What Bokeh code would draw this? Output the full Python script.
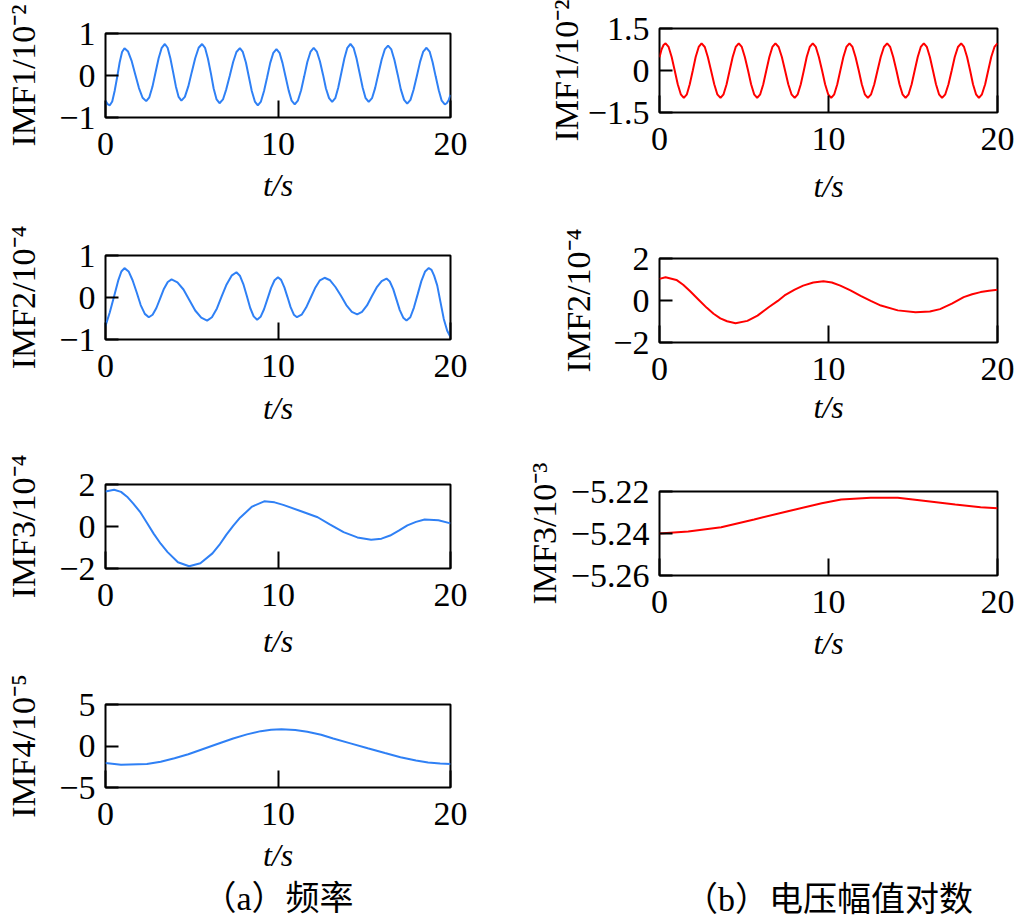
from bokeh.plotting import figure
from bokeh.models import Range1d, FixedTicker, CustomJSTickFormatter, Title
from bokeh.layouts import row, column
from bokeh.embed import file_html
from bokeh.resources import INLINE

BLUE = "#2F80F5"
RED = "#FF0000"
SERIF = "Liberation Serif"
CAPFONT = "'Liberation Serif', 'Noto Sans CJK SC'"

# ---------------- data ----------------
# (a) frequency, IMF1 (x1e-2)
t_a1 = [0, 0.12, 0.25,
        0.39, 0.53, 0.68, 0.82, 0.96, 1.10,
        1.31, 1.52, 1.73, 1.94, 2.15, 2.36,
        2.54, 2.72, 2.90, 3.08, 3.26, 3.44,
        3.60, 3.76, 3.92, 4.08, 4.24, 4.40,
        4.60, 4.80, 5.00, 5.20, 5.40, 5.60,
        5.77, 5.94, 6.11, 6.27, 6.44, 6.61,
        6.81, 7.00, 7.20, 7.40, 7.59, 7.79,
        7.96, 8.14, 8.31, 8.48, 8.66, 8.83,
        9.01, 9.19, 9.37, 9.55, 9.73, 9.91,
        10.09, 10.26, 10.44, 10.62, 10.79, 10.97,
        11.15, 11.34, 11.52, 11.70, 11.89, 12.07,
        12.25, 12.43, 12.61, 12.78, 12.96, 13.14,
        13.32, 13.49, 13.67, 13.85, 14.02, 14.20,
        14.38, 14.55, 14.73, 14.91, 15.08, 15.26,
        15.45, 15.63, 15.82, 16.01, 16.19, 16.38,
        16.57, 16.75, 16.94, 17.12, 17.31, 17.49,
        17.68, 17.86, 18.05, 18.24, 18.42, 18.61,
        18.79, 18.96, 19.14, 19.32, 19.49, 19.67,
        19.78, 19.89, 20.0]
v_a1 = [-0.60, -0.68, -0.71,
        -0.62, -0.37, -0.03, 0.31, 0.56, 0.65,
        0.57, 0.34, 0.02, -0.30, -0.53, -0.61,
        -0.52, -0.27, 0.07, 0.41, 0.66, 0.75,
        0.66, 0.41, 0.08, -0.26, -0.51, -0.60,
        -0.51, -0.26, 0.08, 0.41, 0.66, 0.75,
        0.66, 0.40, 0.05, -0.31, -0.57, -0.66,
        -0.57, -0.33, -0.01, 0.32, 0.56, 0.65,
        0.56, 0.31, -0.03, -0.37, -0.62, -0.71,
        -0.62, -0.37, -0.04, 0.30, 0.54, 0.63,
        0.54, 0.30, -0.03, -0.36, -0.60, -0.69,
        -0.60, -0.35, -0.02, 0.32, 0.57, 0.66,
        0.57, 0.34, 0.02, -0.31, -0.54, -0.63,
        -0.54, -0.29, 0.06, 0.41, 0.66, 0.75,
        0.66, 0.41, 0.06, -0.29, -0.54, -0.63,
        -0.54, -0.30, 0.04, 0.38, 0.62, 0.71,
        0.62, 0.37, 0.02, -0.33, -0.58, -0.67,
        -0.58, -0.34, -0.01, 0.33, 0.57, 0.66,
        0.57, 0.32, -0.02, -0.35, -0.60, -0.69,
        -0.66, -0.59, -0.46]

# (a) frequency, IMF2 (x1e-4)
t_a2 = [0, 0.25, 0.48, 0.75, 0.92, 1.10,
        1.34, 1.57, 1.81, 2.04, 2.28, 2.51,
        2.73, 2.95, 3.17, 3.39, 3.61, 3.83,
        4.17, 4.52, 4.86, 5.20, 5.55, 5.89,
        6.17, 6.46, 6.74, 7.02, 7.31, 7.59,
        7.79, 7.99, 8.19, 8.39, 8.59, 8.79,
        8.99, 9.19, 9.40, 9.60, 9.80, 10.0,
        10.18, 10.37, 10.55, 10.73, 10.92, 11.10,
        11.37, 11.63, 11.90, 12.17, 12.43, 12.70,
        13.02, 13.33, 13.65, 13.96, 14.28, 14.59,
        14.87, 15.16, 15.44, 15.72, 16.01, 16.29,
        16.48, 16.68, 16.87, 17.06, 17.26, 17.45,
        17.67, 17.88, 18.10, 18.31, 18.53, 18.74,
        18.90, 19.05, 19.23, 19.42, 19.61, 19.81, 20.0]
v_a2 = [-0.68, -0.35, 0.0, 0.42, 0.62, 0.70,
        0.62, 0.41, 0.12, -0.18, -0.39, -0.47,
        -0.41, -0.25, -0.02, 0.21, 0.37, 0.43,
        0.36, 0.19, -0.06, -0.31, -0.48, -0.55,
        -0.47, -0.26, 0.03, 0.31, 0.52, 0.60,
        0.52, 0.32, 0.04, -0.25, -0.45, -0.53,
        -0.46, -0.28, -0.02, 0.23, 0.41, 0.48,
        0.42, 0.24, 0.01, -0.23, -0.41, -0.47,
        -0.41, -0.24, 0.0, 0.24, 0.41, 0.47,
        0.41, 0.25, 0.04, -0.18, -0.34, -0.40,
        -0.34, -0.19, 0.03, 0.24, 0.39, 0.45,
        0.38, 0.20, -0.05, -0.30, -0.48, -0.55,
        -0.47, -0.24, 0.08, 0.39, 0.62, 0.70,
        0.66, 0.52, 0.29, -0.11, -0.51, -0.79, -0.94]

# (a) frequency, IMF3 (x1e-4)
t_a3 = [0, 0.5, 0.9, 1.25, 1.6, 2.0, 2.4, 2.8, 3.2, 3.6, 4.2, 4.85, 5.5, 6.2, 6.6, 7.0, 7.4,
        7.8, 8.5, 9.2, 9.8, 10.3, 11.3, 12.3, 13.0, 13.8, 14.6, 15.4, 16.0, 16.5, 17.0,
        17.5, 18.0, 18.5, 19.3, 20.0]
v_a3 = [1.67, 1.75, 1.65, 1.42, 1.10, 0.70, 0.18, -0.35, -0.82, -1.22, -1.70, -1.89, -1.75,
        -1.28, -0.88, -0.40, 0.03, 0.42, 0.95, 1.20, 1.15, 1.03, 0.74, 0.44, 0.10, -0.27,
        -0.52, -0.63, -0.58, -0.43, -0.20, 0.05, 0.22, 0.33, 0.30, 0.15]

# (a) frequency, IMF4 (x1e-5)
t_a4 = [0, 0.9, 2.4, 3.2, 4.0, 4.8, 5.5, 6.4, 7.4, 8.2, 9.0, 9.6, 10.2, 11.0, 11.7, 12.5, 13.2,
        14.2, 15.2, 16.2, 17.1, 18.0, 18.7, 19.4, 20.0]
v_a4 = [-2.06, -2.26, -2.18, -1.90, -1.47, -1.00, -0.48, 0.18, 0.91, 1.40, 1.79, 1.95, 2.02,
        1.92, 1.71, 1.35, 0.91, 0.32, -0.28, -0.85, -1.35, -1.75, -1.98, -2.12, -2.18]

# (b) log voltage amplitude, IMF1 (x1e-2)
t_b1 = [0, 0.12, 0.24, 0.36,
        0.54, 0.72, 0.90, 1.08, 1.26, 1.44,
        1.62, 1.79, 1.97, 2.14, 2.32, 2.49,
        2.68, 2.86, 3.05, 3.24, 3.42, 3.61,
        3.79, 3.97, 4.15, 4.33, 4.51, 4.69,
        4.87, 5.05, 5.24, 5.42, 5.60, 5.78,
        5.96, 6.14, 6.32, 6.50, 6.68, 6.86,
        7.05, 7.24, 7.43, 7.62, 7.81, 8.00,
        8.18, 8.36, 8.54, 8.71, 8.89, 9.07,
        9.25, 9.43, 9.62, 9.80, 9.98, 10.16,
        10.34, 10.52, 10.70, 10.88, 11.06, 11.24,
        11.42, 11.60, 11.79, 11.97, 12.15, 12.33,
        12.52, 12.71, 12.90, 13.09, 13.28, 13.47,
        13.65, 13.83, 14.02, 14.20, 14.38, 14.56,
        14.74, 14.92, 15.10, 15.28, 15.46, 15.64,
        15.82, 16.00, 16.18, 16.36, 16.54, 16.72,
        16.91, 17.10, 17.29, 17.47, 17.66, 17.85,
        18.02, 18.20, 18.38, 18.55, 18.73, 18.90,
        19.08, 19.27, 19.45, 19.63, 19.82, 20.0]
v_b1 = [0.47, 0.75, 0.91, 0.97,
        0.84, 0.48, 0.0, -0.49, -0.85, -0.98,
        -0.85, -0.49, 0.0, 0.48, 0.84, 0.97,
        0.84, 0.48, 0.0, -0.49, -0.85, -0.98,
        -0.85, -0.49, 0.0, 0.48, 0.84, 0.97,
        0.84, 0.48, 0.0, -0.49, -0.85, -0.98,
        -0.85, -0.49, 0.0, 0.48, 0.84, 0.97,
        0.84, 0.48, 0.0, -0.49, -0.85, -0.98,
        -0.85, -0.49, 0.0, 0.48, 0.84, 0.97,
        0.84, 0.48, 0.0, -0.49, -0.85, -0.98,
        -0.85, -0.49, 0.0, 0.48, 0.84, 0.97,
        0.84, 0.48, 0.0, -0.49, -0.85, -0.98,
        -0.85, -0.49, 0.0, 0.48, 0.84, 0.97,
        0.84, 0.48, 0.0, -0.49, -0.85, -0.98,
        -0.85, -0.49, 0.0, 0.48, 0.84, 0.97,
        0.84, 0.48, 0.0, -0.49, -0.85, -0.98,
        -0.85, -0.49, 0.0, 0.48, 0.84, 0.97,
        0.84, 0.48, 0.0, -0.49, -0.85, -0.98,
        -0.85, -0.49, 0.0, 0.48, 0.84, 0.97]

# (b) log voltage amplitude, IMF2 (x1e-4)
t_b2 = [0, 0.36, 1.0, 1.4, 1.8, 2.3, 2.8, 3.2, 3.6, 4.0, 4.5, 5.2, 5.8, 6.5, 7.0, 7.4, 8.0,
        8.5, 9.1, 9.7, 10.2, 10.7, 11.3, 11.9, 12.5, 13.1, 14.1, 15.15, 16.0, 16.6, 17.3,
        18.0, 18.5, 19.0, 19.5, 20.0]
v_b2 = [1.03, 1.11, 0.98, 0.75, 0.45, 0.05, -0.35, -0.63, -0.85, -0.99, -1.08, -0.97, -0.72,
        -0.30, -0.02, 0.24, 0.52, 0.71, 0.86, 0.92, 0.86, 0.71, 0.48, 0.22, -0.02, -0.24,
        -0.47, -0.56, -0.52, -0.41, -0.15, 0.16, 0.30, 0.40, 0.46, 0.51]

# (b) log voltage amplitude, IMF3 (x1e-3)
t_b3 = [0, 1.7, 3.65, 5.6, 7.6, 9.6, 10.75, 12.5, 14.1, 15.5, 17.5, 19.0, 20.0]
v_b3 = [-5.2400, -5.2390, -5.2370, -5.2333, -5.2294, -5.2256, -5.2238, -5.2230,
        -5.2230, -5.2243, -5.2262, -5.2275, -5.2280]

x_ticks = [0, 10, 20]
yticks_a1 = [-1, 0, 1]
yticks_a2 = [-1, 0, 1]
yticks_a3 = [-2, 0, 2]
yticks_a4 = [-5, 0, 5]
yticks_b1 = [-1.5, 0, 1.5]
yticks_b2 = [-2, 0, 2]
yticks_b3 = [-5.26, -5.24, -5.22]

ylabels = ["IMF1/10\u207b\u00b2", "IMF2/10\u207b\u2074", "IMF3/10\u207b\u2074", "IMF4/10\u207b\u2075",
           "IMF1/10\u207b\u00b2", "IMF2/10\u207b\u2074", "IMF3/10\u207b\u00b3"]
xlabel = "t/s"
captions = ["（a）频率", "（b）电压幅值对数"]

# ---------------- drawing ----------------
FRAME_H = 84


def fmt(dec):
    return CustomJSTickFormatter(code="""
        if (Math.abs(tick) < 1e-9) { return '0'; }
        return tick.toFixed(%d).replace('-', '\\u2212');
    """ % dec)


def caption_title(text, standoff):
    return Title(text=text, align="center", vertical_align="bottom", standoff=standoff,
                 text_font=CAPFONT, text_font_size="34px", text_font_style="normal",
                 text_color="black")


def panel(t, v, color, ylo, yhi, yticks, ydec, ylabel, width, height, top,
          left, frame_w, xstand, ystand, caption=None, cap_stand=0):
    bottom = height - top - FRAME_H
    right = width - left - frame_w
    p = figure(width=width, height=height,
               x_range=Range1d(0, 20), y_range=Range1d(ylo, yhi),
               output_backend="svg", toolbar_location=None,
               min_border_left=left, min_border_right=right,
               min_border_top=top, min_border_bottom=bottom)
    p.grid.visible = False
    p.outline_line_color = "black"
    p.outline_line_width = 2
    p.outline_line_alpha = 1
    p.background_fill_color = "white"
    p.border_fill_color = "white"

    p.line(t, v, line_color=color, line_width=2)

    for ax, ticks, dec, tin, st in ((p.xaxis[0], x_ticks, 0, 17, 15), (p.yaxis[0], yticks, ydec, 13, 10)):
        ax.ticker = FixedTicker(ticks=ticks)
        ax.formatter = fmt(dec)
        ax.axis_line_color = None
        ax.major_tick_in = tin
        ax.major_tick_out = 0
        ax.major_tick_line_width = 2
        ax.major_tick_line_color = "black"
        ax.minor_tick_line_color = None
        ax.major_label_text_font = SERIF
        ax.major_label_text_font_size = "34px"
        ax.major_label_text_color = "black"
        ax.major_label_standoff = st
        ax.axis_label_text_font = SERIF
        ax.axis_label_text_color = "black"

    p.xaxis.axis_label = xlabel
    p.xaxis.axis_label_text_font_style = "italic"
    p.xaxis.axis_label_text_font_size = "32px"
    p.xaxis.axis_label_standoff = xstand

    p.yaxis.axis_label = ylabel
    p.yaxis.axis_label_text_font_style = "normal"
    p.yaxis.axis_label_text_font_size = "34px"
    p.yaxis.axis_label_standoff = ystand

    if caption:
        p.add_layout(caption_title(caption, cap_stand), "below")
    return p


WA, LA, FWA = 500, 105, 345
WB, LB, FWB = 518, 159, 338

a1 = panel(t_a1, v_a1, BLUE, -1, 1, yticks_a1, 0, ylabels[0], WA, 220, 33, LA, FWA, 9, 14)
a2 = panel(t_a2, v_a2, BLUE, -1, 1, yticks_a2, 0, ylabels[1], WA, 220, 35, LA, FWA, 10, 14)
a3 = panel(t_a3, v_a3, BLUE, -2, 2, yticks_a3, 0, ylabels[2], WA, 225, 44, LA, FWA, 14, 14)
a4 = panel(t_a4, v_a4, BLUE, -5, 5, yticks_a4, 0, ylabels[3], WA, 253, 39, LA, FWA, 9, 14,
           caption=captions[0], cap_stand=4)

b1 = panel(t_b1, v_b1, RED, -1.5, 1.5, yticks_b1, 1, ylabels[4], WB, 220, 28, LB, FWB, 15, 0)
b2 = panel(t_b2, v_b2, RED, -2, 2, yticks_b2, 0, ylabels[5], WB, 225, 38, LB, FWB, 6, 13)
b3 = panel(t_b3, v_b3, RED, -5.26, -5.22, yticks_b3, 2, ylabels[6], WB, 225, 46, LB, FWB, 9, 5)

# caption of column (b): an axis-less strip whose title sits just above its (tiny) frame
cb = figure(width=WB, height=248, x_range=Range1d(0, 20), y_range=Range1d(0, 1),
            output_backend="svg", toolbar_location=None,
            x_axis_location=None, y_axis_location=None,
            min_border_left=LB, min_border_right=WB - LB - FWB,
            min_border_top=247, min_border_bottom=0)
cb.grid.visible = False
cb.outline_line_color = None
cb.background_fill_color = "white"
cb.border_fill_color = "white"
cb.add_layout(caption_title(captions[1], 0), "above")

layout = row(column(a1, a2, a3, a4), column(b1, b2, b3, cb))

with open("out.html", "w", encoding="utf-8") as f:
    f.write(file_html(layout, INLINE))
